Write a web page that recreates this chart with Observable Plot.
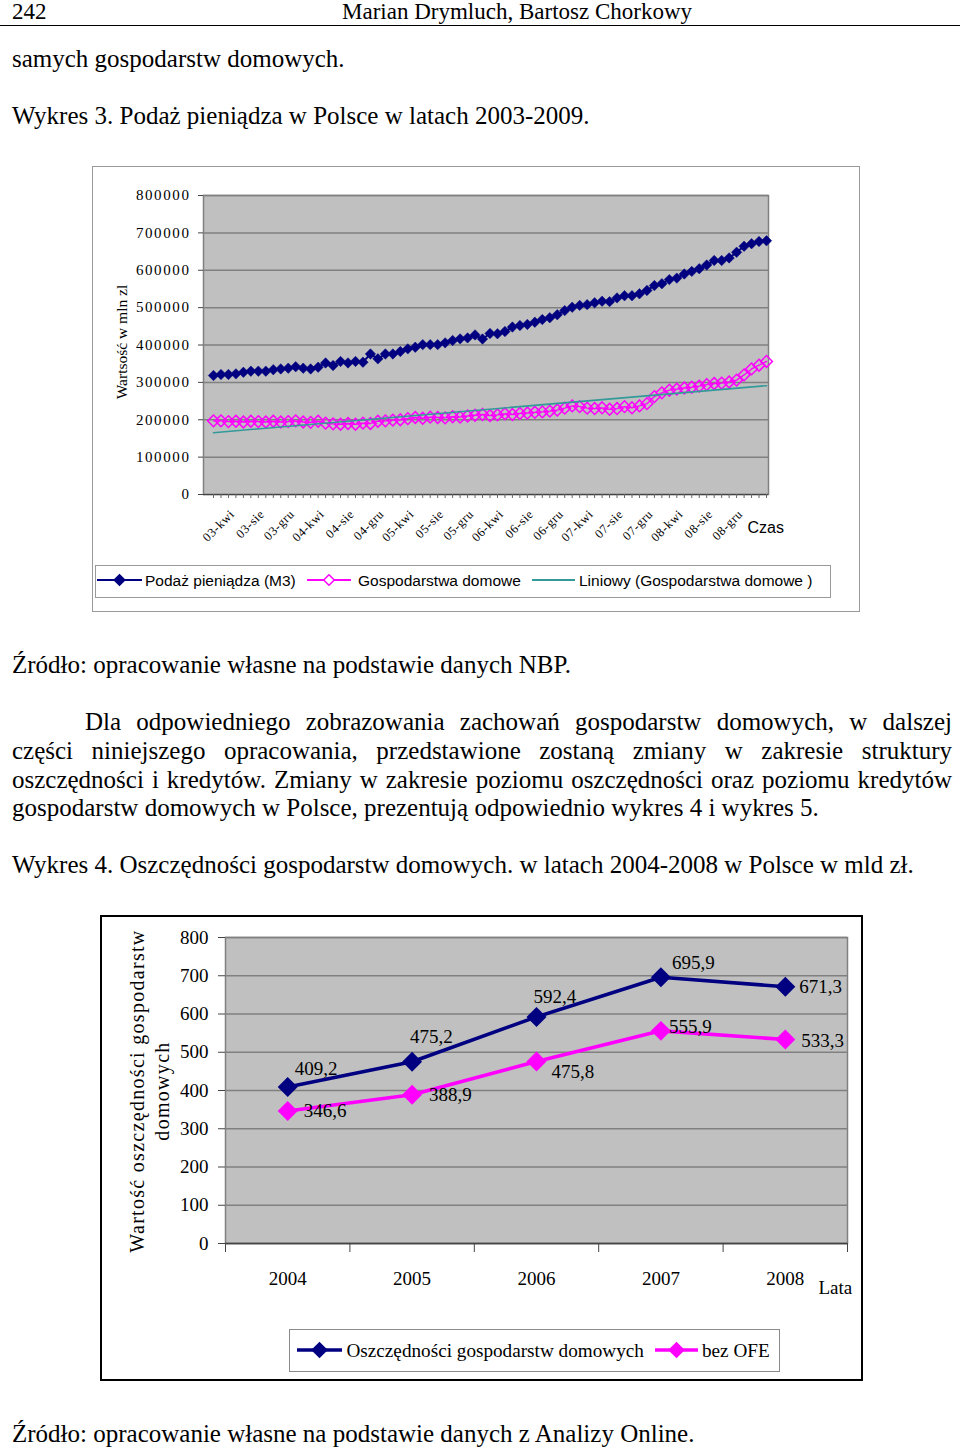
<!DOCTYPE html>
<html lang="pl">
<head>
<meta charset="utf-8">
<title>Wykres 3 i 4</title>
<script src="https://cdn.jsdelivr.net/npm/d3@7"></script>
<script src="https://cdn.jsdelivr.net/npm/@observablehq/plot@0.6"></script>
<style>
html,body{margin:0;padding:0;background:#fff;}
body{position:relative;width:960px;height:1450px;overflow:hidden;font-family:"Liberation Serif","Times New Roman",serif;color:#000;}
.t{position:absolute;left:12px;white-space:nowrap;font-size:25px;line-height:29px;}
#hr{position:absolute;left:0;top:25px;width:960px;height:1px;background:#000;}
#box1{position:absolute;left:92px;top:166px;width:768px;height:446px;border:1px solid #9a9a9a;box-sizing:border-box;}
#box2{position:absolute;left:100px;top:915px;width:763px;height:466px;border:2px solid #000;box-sizing:border-box;}
#chart1{position:absolute;left:92px;top:165px;}
#chart2{position:absolute;left:100px;top:915px;}
#leg1{position:absolute;left:95px;top:565px;}
#leg2{position:absolute;left:289px;top:1329px;}
svg{overflow:visible;}
</style>
</head>
<body>
<div class="t" style="left:12px;top:-1px;font-size:23px;line-height:26px">242</div>
<div class="t" style="left:342px;top:-1px;font-size:23px;line-height:26px">Marian Drymluch, Bartosz Chorkowy</div>
<div id="hr"></div>
<div class="t" style="top:44px">samych gospodarstw domowych.</div>
<div class="t" style="top:101px">Wykres 3. Podaż pieniądza w Polsce w latach 2003-2009.</div>
<div id="box1"></div>
<div id="chart1"></div>
<div id="leg1"></div>
<div class="t" style="top:650px">Źródło: opracowanie własne na podstawie danych NBP.</div>
<div class="t jl" data-w="867" style="top:707px;left:85px"><span>Dla odpowiedniego zobrazowania zachowań gospodarstw domowych, w dalszej</span></div>
<div class="t jl" data-w="940" style="top:736px"><span>części niniejszego opracowania, przedstawione zostaną zmiany w zakresie struktury</span></div>
<div class="t jl" data-w="940" style="top:765px"><span>oszczędności i kredytów. Zmiany w zakresie poziomu oszczędności oraz poziomu kredytów</span></div>
<div class="t" style="top:793px">gospodarstw domowych w Polsce, prezentują odpowiednio wykres 4 i wykres 5.</div>
<div class="t" style="top:850px">Wykres 4. Oszczędności gospodarstw domowych. w latach 2004-2008 w Polsce w mld zł.</div>
<div id="box2"></div>
<div id="chart2"></div>
<div id="leg2"></div>
<div class="t" style="top:1419px">Źródło: opracowanie własne na podstawie danych z Analizy Online.</div>

<script>
// ---------------- Chart 1 data (Wykres 3) ----------------
const months = [
  "03-sty","03-lut","03-mar","03-kwi","03-maj","03-cze","03-lip","03-sie","03-wrz","03-paź","03-lis","03-gru",
  "04-sty","04-lut","04-mar","04-kwi","04-maj","04-cze","04-lip","04-sie","04-wrz","04-paź","04-lis","04-gru",
  "05-sty","05-lut","05-mar","05-kwi","05-maj","05-cze","05-lip","05-sie","05-wrz","05-paź","05-lis","05-gru",
  "06-sty","06-lut","06-mar","06-kwi","06-maj","06-cze","06-lip","06-sie","06-wrz","06-paź","06-lis","06-gru",
  "07-sty","07-lut","07-mar","07-kwi","07-maj","07-cze","07-lip","07-sie","07-wrz","07-paź","07-lis","07-gru",
  "08-sty","08-lut","08-mar","08-kwi","08-maj","08-cze","08-lip","08-sie","08-wrz","08-paź","08-lis","08-gru",
  "09-sty","09-lut","09-mar"
];
const xTickLabels = ["03-kwi","03-sie","03-gru","04-kwi","04-sie","04-gru","05-kwi","05-sie","05-gru",
  "06-kwi","06-sie","06-gru","07-kwi","07-sie","07-gru","08-kwi","08-sie","08-gru"];
const m3Supply = [
  318300,321000,321000,322800,327000,330000,330000,330000,334000,336000,338000,342000,
  338000,336000,340600,352000,345000,355800,352000,356000,354000,376000,363000,376000,
  376000,382500,389700,394000,401000,401000,401000,405700,412000,416400,419000,427000,
  416000,430700,430000,436000,448000,452000,455000,461000,468000,473000,481000,492000,
  501000,506000,508000,513000,517000,516000,526000,532000,532000,537000,546000,559000,
  564000,575000,579000,590000,597000,604000,614000,626000,626000,633000,648000,664000,
  671000,677000,679000
];
const households = [
  197000,197000,195000,196000,194000,196000,195000,194000,196000,194000,195000,197000,
  194000,193000,196000,191000,189000,188000,190000,188000,191000,190000,196000,197000,
  199000,200000,203000,206000,204000,207000,206000,205000,208000,207000,210000,212000,
  214000,211000,213000,216000,214000,217000,218000,220000,221000,223000,226000,231000,
  237000,235000,231000,230000,232000,228000,230000,235000,232000,237000,243000,262000,
  272000,279000,282000,285000,287000,290000,294000,297000,298000,301000,306000,320000,
  336000,346000,356000
];
const yTicks1 = [0,100000,200000,300000,400000,500000,600000,700000,800000];
const seriesNames1 = ["Podaż pieniądza (M3)","Gospodarstwa domowe","Liniowy (Gospodarstwa domowe )"];
const yTitle1 = "Wartsość w mln zl";
const xTitle1 = "Czas";

// ---------------- Chart 2 data (Wykres 4) ----------------
const years = [2004,2005,2006,2007,2008];
const savings = [409.2,475.2,592.4,695.9,671.3];
const savingsNoOFE = [346.6,388.9,475.8,555.9,533.3];
const yTicks2 = [0,100,200,300,400,500,600,700,800];
const seriesNames2 = ["Oszczędności gospodarstw domowych","bez OFE"];
const yTitle2 = "Wartość oszczędności gospodarstw\ndomowych";
const xTitle2 = "Lata";

// label placement (offsets in px from each point)
const savingsLabelOffsets = [[7,-18],[-2,-25],[-3,-20],[11,-14],[14,0]];
const noOfeLabelOffsets = [[16,0],[17,0],[15,10],[8,-4],[16,1]];

const NAVY = "#000080", PINK = "#ff00ff", TEAL = "#339999", PLOTBG = "#c0c0c0", GRID = "#808080";
const SERIF = '"Liberation Serif", "Times New Roman", serif';
const SANS = '"Liberation Sans", Arial, sans-serif';

// ---------------- Chart 1 ----------------
const data1 = months.map((m, i) => ({i, m, m3: m3Supply[i], hh: households[i]}));
const tickIdx = xTickLabels.map(l => months.indexOf(l));

const chart1 = Plot.plot({
  width: 768, height: 400,
  marginLeft: 111, marginRight: 92, marginTop: 30, marginBottom: 71,
  x: {type: "linear", domain: [0, months.length - 1], insetLeft: 10, insetRight: 2, axis: null},
  y: {domain: [0, 800000], axis: null},
  style: {fontFamily: SERIF, fontSize: "15px", background: "transparent", overflow: "visible", color: "#000"},
  marks: [
    Plot.frame({fill: PLOTBG}),
    Plot.gridY(yTicks1, {stroke: GRID, strokeOpacity: 1, strokeWidth: 1.5}),
    Plot.frame({stroke: GRID, strokeWidth: 1.5}),
    Plot.ruleY([0], {stroke: "#444", strokeWidth: 1.2}),
    Plot.axisY(yTicks1, {tickSize: 5, tickPadding: 8, tickFormat: d => String(d), fontSize: 15, fontFamily: SERIF, label: null, stroke: "#444"}),
    Plot.axisX(data1.map(d => d.i), {tickSize: 4, tickFormat: () => "", label: null, stroke: "#666"}),
    Plot.text(tickIdx, {x: d => d, y: 0, text: d => months[d], rotate: -45, textAnchor: "end", lineAnchor: "top",
      dx: -7, dy: 14, fontSize: 12.5, fontFamily: SERIF}),
    Plot.line(data1, {x: "i", y: "m3", stroke: NAVY, strokeWidth: 2}),
    Plot.dot(data1, {x: "i", y: "m3", symbol: "diamond2", r: 4.7, fill: NAVY, stroke: NAVY, strokeWidth: 0.5}),
    Plot.line(data1, {x: "i", y: "hh", stroke: PINK, strokeWidth: 1.3}),
    Plot.dot(data1, {x: "i", y: "hh", symbol: "diamond2", r: 5.3, fill: "none", stroke: PINK, strokeWidth: 1.5}),
    Plot.linearRegressionY(data1, {x: "i", y: "hh", stroke: TEAL, strokeWidth: 1.6, ci: 0}),
    Plot.text([yTitle1], {frameAnchor: "left", dx: -81, dy: -3, rotate: -90, textAnchor: "middle", fontSize: 15.5, fontFamily: SERIF}),
    Plot.text([xTitle1], {frameAnchor: "bottom-right", dx: -21, dy: 38, textAnchor: "start", lineAnchor: "bottom",
      fontFamily: SANS, fontSize: 16})
  ]
});
document.getElementById("chart1").appendChild(chart1);
d3.select(chart1).selectAll('g[aria-label="y-axis tick label"] text').style("letter-spacing", "1.6px");
d3.select(chart1).selectAll("text").filter(function(){ return xTickLabels.includes(this.textContent); })
  .style("letter-spacing", "0.6px");

// legend 1
(function(){
  const w = 736, h = 33;
  const svg = d3.create("svg").attr("width", w).attr("height", h)
    .style("font-family", SANS).style("font-size", "15.5px");
  svg.append("rect").attr("x", 0.5).attr("y", 0.5).attr("width", w - 1).attr("height", h - 1)
    .attr("fill", "#fff").attr("stroke", "#9a9a9a");
  const items = [
    {x0: 2, x1: 47, tx: 50, color: NAVY, marker: "filled"},
    {x0: 212, x1: 256, tx: 263, color: PINK, marker: "hollow"},
    {x0: 437, x1: 480, tx: 484, color: TEAL, marker: null}
  ];
  items.forEach((it, k) => {
    const cy = 15;
    svg.append("line").attr("x1", it.x0).attr("x2", it.x1).attr("y1", cy).attr("y2", cy)
      .attr("stroke", it.color).attr("stroke-width", 2);
    const cx = (it.x0 + it.x1) / 2, r = 5.3;
    if (it.marker) {
      svg.append("path").attr("d", `M${cx},${cy - r}L${cx + r},${cy}L${cx},${cy + r}L${cx - r},${cy}Z`)
        .attr("fill", it.marker === "filled" ? it.color : "#fff").attr("stroke", it.color).attr("stroke-width", 1.5);
    }
    svg.append("text").attr("x", it.tx).attr("y", 21).text(seriesNames1[k]);
  });
  document.getElementById("leg1").appendChild(svg.node());
})();

// ---------------- Chart 2 ----------------
const data2 = years.map((y, i) => ({year: y, s: savings[i], b: savingsNoOFE[i]}));
const fmt = v => v.toFixed(1).replace(".", ",");
const bounds = years.map(y => y - 0.5).concat([years[years.length - 1] + 0.5]);

const chart2 = Plot.plot({
  width: 762, height: 385,
  marginLeft: 125, marginRight: 15, marginTop: 22, marginBottom: 57,
  x: {type: "linear", domain: [bounds[0], bounds[bounds.length - 1]], axis: null},
  y: {domain: [0, 800], axis: null},
  style: {fontFamily: SERIF, fontSize: "19px", background: "transparent", overflow: "visible", color: "#000"},
  marks: [
    Plot.frame({fill: PLOTBG}),
    Plot.gridY(yTicks2, {stroke: GRID, strokeOpacity: 1, strokeWidth: 1.5}),
    Plot.frame({stroke: GRID, strokeWidth: 1.5}),
    Plot.ruleY([0], {stroke: "#444", strokeWidth: 1.5}),
    Plot.axisY(yTicks2, {tickSize: 7, tickPadding: 10, tickFormat: d => String(d), fontSize: 19, fontFamily: SERIF, label: null, stroke: "#444"}),
    Plot.axisX(bounds, {tickSize: 9, tickFormat: () => "", label: null, stroke: "#444"}),
    Plot.axisX(years, {tickSize: 0, tickPadding: 28, tickFormat: d => String(d), fontSize: 19, fontFamily: SERIF, label: null}),
    Plot.line(data2, {x: "year", y: "s", stroke: NAVY, strokeWidth: 3.6}),
    Plot.line(data2, {x: "year", y: "b", stroke: PINK, strokeWidth: 3.6}),
    Plot.dot(data2, {x: "year", y: "s", symbol: "diamond2", r: 9, fill: NAVY}),
    Plot.dot(data2, {x: "year", y: "b", symbol: "diamond2", r: 9, fill: PINK}),
    ...data2.map((d, i) => Plot.text([d], {x: "year", y: "s", text: e => fmt(e.s), textAnchor: "start", lineAnchor: "middle",
      dx: savingsLabelOffsets[i][0], dy: savingsLabelOffsets[i][1], fontSize: 19, fontFamily: SERIF})),
    ...data2.map((d, i) => Plot.text([d], {x: "year", y: "b", text: e => fmt(e.b), textAnchor: "start", lineAnchor: "middle",
      dx: noOfeLabelOffsets[i][0], dy: noOfeLabelOffsets[i][1], fontSize: 19, fontFamily: SERIF})),
    Plot.text([yTitle2], {frameAnchor: "left", dx: -77, dy: 0.5, rotate: -90, textAnchor: "middle", lineAnchor: "middle",
      lineHeight: 1.25, fontSize: 20, fontFamily: SERIF}),
    Plot.text([xTitle2], {frameAnchor: "bottom-right", dx: -29, dy: 50, textAnchor: "start", lineAnchor: "bottom", fontSize: 19, fontFamily: SERIF})
  ]
});
document.getElementById("chart2").appendChild(chart2);
d3.select(chart2).selectAll("text").filter(function(){ return this.textContent.indexOf("Wartość") === 0; })
  .style("letter-spacing", "1.3px");

// legend 2
(function(){
  const w = 491, h = 43;
  const svg = d3.create("svg").attr("width", w).attr("height", h)
    .style("font-family", SERIF).style("font-size", "19.2px");
  svg.append("rect").attr("x", 0.5).attr("y", 0.5).attr("width", w - 1).attr("height", h - 1)
    .attr("fill", "#fff").attr("stroke", "#8a8a8a");
  const items = [
    {x0: 8, x1: 53, tx: 57.5, color: NAVY},
    {x0: 366, x1: 409, tx: 413, color: PINK}
  ];
  items.forEach((it, k) => {
    const cy = 21, cx = (it.x0 + it.x1) / 2, r = 8.3;
    svg.append("line").attr("x1", it.x0).attr("x2", it.x1).attr("y1", cy).attr("y2", cy)
      .attr("stroke", it.color).attr("stroke-width", 3.5);
    svg.append("path").attr("d", `M${cx},${cy - r}L${cx + r},${cy}L${cx},${cy + r}L${cx - r},${cy}Z`).attr("fill", it.color);
    svg.append("text").attr("x", it.tx).attr("y", 28).text(seriesNames2[k]);
  });
  document.getElementById("leg2").appendChild(svg.node());
})();

// justify the paragraph lines exactly like the reference line breaks
document.querySelectorAll(".jl").forEach(el => {
  const span = el.querySelector("span");
  const target = +el.dataset.w;
  const w = span.getBoundingClientRect().width;
  const n = (span.textContent.match(/ /g) || []).length;
  if (n > 0) span.style.wordSpacing = ((target - w) / n) + "px";
});
</script>
</body>
</html>
